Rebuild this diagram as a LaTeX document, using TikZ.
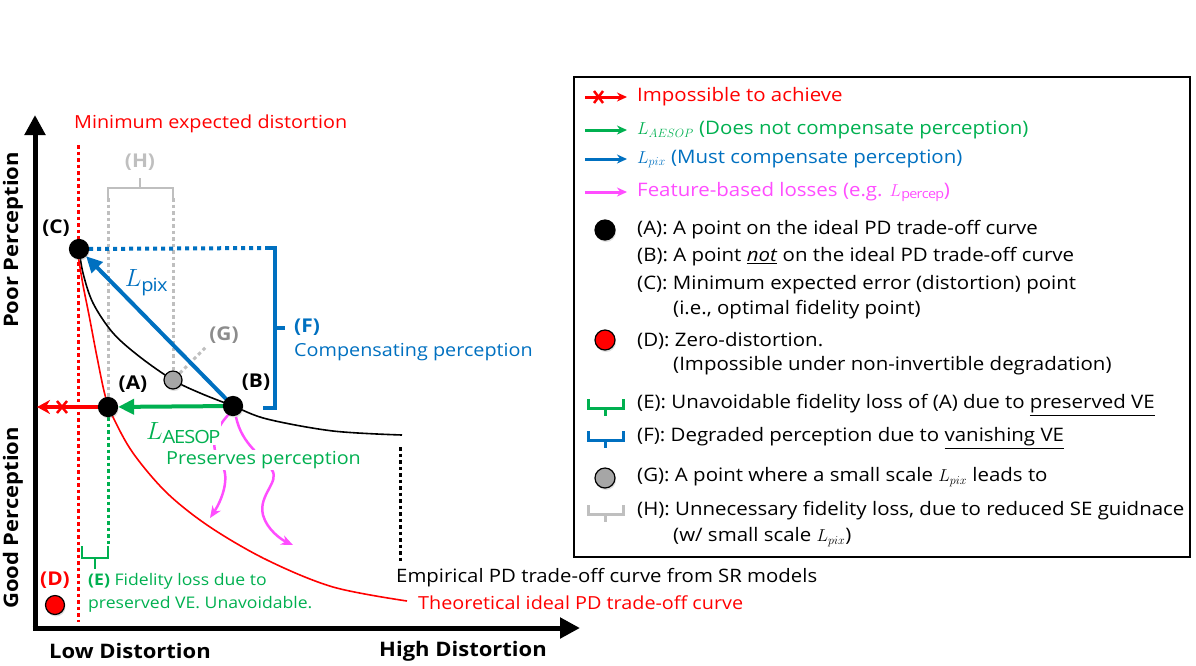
\documentclass[tikz,border=0pt]{standalone}
\usepackage{fontspec}
\setmainfont{Open Sans}[FakeStretch=1.1]
\usetikzlibrary{arrows.meta,shadows}
\definecolor{cred}{HTML}{FF0000}
\definecolor{cgreen}{HTML}{00B050}
\definecolor{cblue}{HTML}{0070C0}
\definecolor{cmag}{HTML}{FF4DFF}
\definecolor{clgray}{HTML}{BFBFBF}
\definecolor{cgray}{HTML}{8C8C8C}
\definecolor{cgfill}{HTML}{A6A6A6}
\pgfdeclarelayer{bg}
\pgfsetlayers{bg,main}
\tikzset{
  dot/.style={circle, draw=black, line width=1.2pt, minimum size=19pt, inner sep=0pt, fill=black,
     drop shadow={opacity=0.25, shadow xshift=1pt, shadow yshift=-2pt}},
  gdot/.style={dot, fill=cgfill, minimum size=18pt},
  rdot/.style={dot, fill=cred, minimum size=19pt},
  lbl/.style={font=\fontsize{19}{22}\selectfont\bfseries, inner sep=0pt},
  txt/.style={font=\fontsize{18}{21}\selectfont, inner sep=0pt, anchor=west},
  leg/.style={font=\fontsize{18.6}{21}\selectfont, inner sep=0pt, anchor=west},
  axlbl/.style={font=\fontsize{20}{24}\selectfont\bfseries, inner sep=0pt},
  axis/.style={line width=5pt, -{Triangle[length=20pt,width=20pt]}},
  brk/.style={line width=3pt, line cap=butt},
  legarrow/.style={line width=3pt, -{Stealth[length=10pt,width=9pt]}},
  dotline/.style={line width=3pt, dash pattern=on 3.5pt off 3pt},
  mathlbl/.style={font=\fontsize{26}{28}\selectfont, inner sep=1pt},
}
\begin{document}
\begin{tikzpicture}[x=1pt,y=-1pt]
\useasboundingbox (0,0) rectangle (1196,665);

% ---------- points ----------
\node[dot] (C) at (79,249) {};
\node[dot] (A) at (108,407) {};
\node[dot] (B) at (233,406) {};
\node[gdot] (G) at (173,380) {};
\node[rdot] (D) at (55,605) {};

\coordinate (Xorig) at (35,628);
\coordinate (Ytip) at (35,115);
\coordinate (Xtip) at (580,628);
\coordinate (Lend) at (37,407);
\coordinate (Ftop) at (275,248);
\coordinate (Fbot) at (275,408);

\begin{pgfonlayer}{bg}
% axes
\draw[axis] (Xorig) -- (Ytip);
\draw[axis] ([xshift=-2.5pt]Xorig) -- (Xtip);

% minimum expected distortion line
\draw[cred, dotline] (78,145) -- (78,622);

% H bracket (gray)
\draw[clgray, dotline] (108,198) -- (A);
\draw[clgray, dotline] (173,198) -- (G);
\draw[clgray, line width=2.5pt] (108,198) -- (108,188) -- (173,188) -- (173,198);
\draw[clgray, line width=2.5pt] (140,188) -- (140,178);
% G pointer
\draw[clgray, dotline] (G) -- (207,346);

% F bracket (blue)
\draw[cblue, line width=4pt, dash pattern=on 4pt off 4pt] (C) -- (265,248);
\draw[cblue, line width=3.5pt] (265,248) -- (Ftop) -- (Fbot) -- (263,408);
\draw[cblue, line width=3.5pt] (275,328) -- (285,328);

% empirical curve
\draw[black, line width=1.6pt] plot[smooth, tension=0.55] coordinates
  {(79,249) (83,273) (93,303) (113,333) (140,357) (173,380) (200,393) (233,406) (267,419) (333,431) (402,435)};
\draw[black, dotline] (400,447) -- (400,562);

% theoretical curve
\draw[cred, line width=1.6pt] plot[smooth, tension=0.55] coordinates
  {(78,255) (83,285) (89,315) (97,357) (105,395) (113,417) (133,453) (167,493) (210,527) (267,560) (333,587) (407,601)};

% E bracket (green)
\draw[cgreen, dotline] (A) -- (108,547);
\draw[cgreen, line width=2.5pt] (82,546) -- (82,558) -- (108,558) -- (108,546);
\draw[cgreen, line width=2.5pt] (95,558) -- (95,569);

% L_pix arrow
\draw[cblue, line width=4pt, -{Triangle[length=16pt,width=15pt]}] (B.center) -- (C);
% L_AESOP arrow
\draw[cgreen, line width=4pt, -{Triangle[length=16pt,width=15pt]}] (B.center) -- (A);
% impossible arrow
\draw[cred, line width=3.5pt, -{Stealth[length=13pt,width=14pt]}] (A.center) -- (Lend);
\draw[cred, line width=2.5pt] (57,401) -- (67,413) (57,413) -- (67,401);

% feature-based losses (magenta)
\draw[cmag, line width=2.5pt, -{Stealth[length=12pt,width=10pt]}]
  (229,414) .. controls (212,432) and (210,450) .. (222,465)
  .. controls (230,478) and (222,500) .. (210,518);
\draw[cmag, line width=2.5pt, -{Stealth[length=12pt,width=10pt]}]
  (236,417) .. controls (242,445) and (262,455) .. (272,470)
  .. controls (280,482) and (258,495) .. (263,515)
  .. controls (267,530) and (282,540) .. (293,545);
\end{pgfonlayer}

% ---------- labels in the plot ----------
\node[axlbl, rotate=90] (poor) at (13,240) {Poor Perception};
\node[axlbl, rotate=90] (good) at (13,518) {Good Perception};
\node[axlbl] (low) at (130,651) {Low Distortion};
\node[axlbl] (high) at (463,651) {High Distortion};

\node[txt, text=cred] (mintxt) at (74,124) {Minimum expected distortion};
\node[lbl, text=clgray] (Hl) at (140,162) {(H)};
\node[lbl] (Cl) at (56,228) {(C)};
\node[lbl] (Al) at (133,384) {(A)};
\node[lbl] (Bl) at (256,382) {(B)};
\node[lbl, text=cgray] (Gl) at (224,335) {(G)};
\node[lbl, text=cred] (Dl) at (55,580) {(D)};

\node[mathlbl, text=cblue] (Lpix) at (146,283) {$L_{\mathrm{pix}}$};
\node[mathlbl, text=cgreen, fill=white] (Laesop) at (183,433) {$L_{\mathrm{AESOP}}$};
\node[lbl, text=cblue, anchor=west] (Fl) at (294,327) {(F)};
\node[txt, text=cblue] (Ftxt) at (294,352) {Compensating perception};
\node[txt, text=cgreen, fill=white, inner sep=1pt] (pres) at (165,460) {Preserves perception};

\node[font=\fontsize{16}{18}\selectfont, text=cgreen, anchor=west, inner sep=0pt] (Etxt) at (88,581)
  {\textbf{(E)} Fidelity loss due to};
\node[font=\fontsize{16}{18}\selectfont, text=cgreen, anchor=west, inner sep=0pt] (Etxt2) at (88,604)
  {preserved VE. Unavoidable.};

\node[txt, font=\fontsize{18.5}{21}\selectfont] (emp) at (396,578) {Empirical PD trade-off curve from SR models};
\node[txt, text=cred] (theo) at (418,603) {Theoretical ideal PD trade-off curve};

% ---------- legend ----------
\node[draw=black, line width=2pt, minimum width=616pt, minimum height=480pt, inner sep=0pt] (legbox) at (882,317) {};

\coordinate (l1a) at (585,97);  \coordinate (l1b) at (627,97);
\coordinate (l2a) at (585,130); \coordinate (l2b) at (627,130);
\coordinate (l3a) at (585,159); \coordinate (l3b) at (627,159);
\coordinate (l4a) at (585,192); \coordinate (l4b) at (627,192);
\draw[legarrow, cred] (l1a) -- (l1b);
\draw[cred, line width=2.5pt] (594,91) -- (603,103) (594,103) -- (603,91);
\draw[legarrow, cgreen] (l2a) -- (l2b);
\draw[legarrow, cblue] (l3a) -- (l3b);
\draw[legarrow, cmag] (l4a) -- (l4b);

\node[leg, text=cred] (t1) at (637,97) {Impossible to achieve};
\node[leg, text=cgreen] (t2) at (637,130) {$L_{AESOP}$ (Does not compensate perception)};
\node[leg, text=cblue] (t3) at (637,159) {$L_{pix}$ (Must compensate perception)};
\node[leg, text=cmag] (t4) at (637,192) {Feature-based losses (e.g. $L_{\mathrm{percep}}$)};

\node[dot, minimum size=20pt] (legA) at (605,230) {};
\node[leg] (t5) at (637,230) {(A): A point on the ideal PD trade-off curve};
\node[leg] (t6) at (637,257) {(B): A point \underline{\textit{not}} on the ideal PD trade-off curve};
\node[leg] (t7) at (637,285) {(C): Minimum expected error (distortion) point};
\node[leg] (t8) at (673,310) {(i.e., optimal fidelity point)};

\node[rdot, minimum size=20pt] (legD) at (605,340) {};
\node[leg] (t9) at (637,341) {(D): Zero-distortion.};
\node[leg] (t10) at (673,366) {(Impossible under non-invertible degradation)};

\draw[cgreen, brk] (588,399) -- (588,408) -- (623,408) -- (623,399) (605,408) -- (605,416);
\node[leg] (t11) at (637,405) {(E): Unavoidable fidelity loss of (A) due to \underline{preserved VE}};
\draw[cblue, brk] (588,431) -- (588,440) -- (623,440) -- (623,431) (605,440) -- (605,448);
\node[leg] (t12) at (637,438) {(F): Degraded perception due to \underline{vanishing VE}};

\node[gdot, minimum size=20pt] (legG) at (605,478) {};
\node[leg] (t13) at (637,477) {(G): A point where a small scale $L_{pix}$ leads to};
\draw[clgray, brk] (588,505) -- (588,514) -- (623,514) -- (623,505) (605,514) -- (605,522);
\node[leg] (t14) at (637,511) {(H): Unnecessary fidelity loss, due to reduced SE guidnace};
\node[leg] (t15) at (673,537) {(w/ small scale $L_{pix}$)};
\end{tikzpicture}
\end{document}
